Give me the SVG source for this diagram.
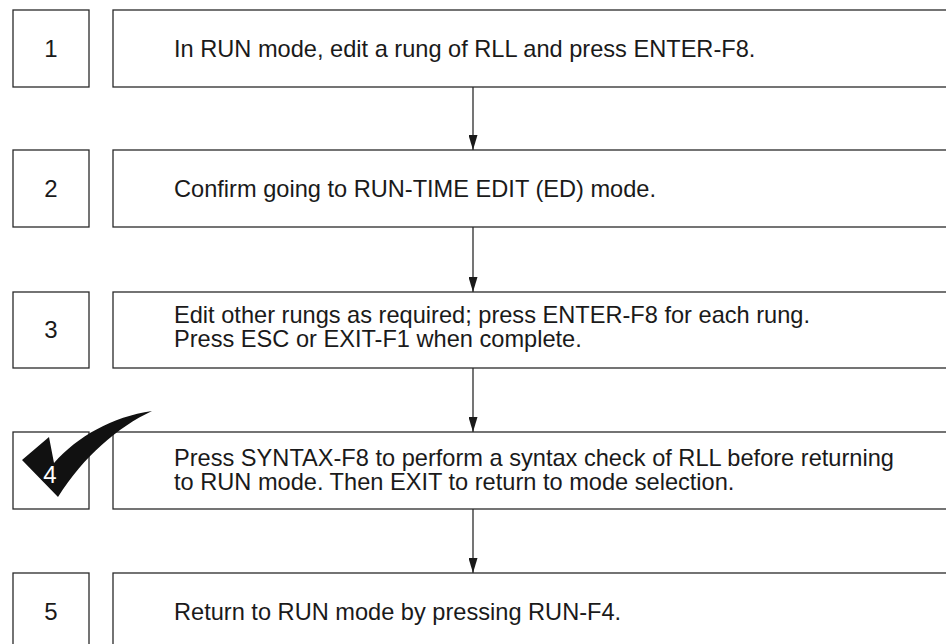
<svg xmlns="http://www.w3.org/2000/svg" width="946" height="644" viewBox="0 0 946 644">
  <style>
    .box { fill: #ffffff; stroke: #2a2a2a; stroke-width: 1.3; }
    .num { font-family: "Liberation Sans", Arial, sans-serif; font-size: 24px; fill: #1a1a1a; text-anchor: middle; }
    .txt { font-family: "Liberation Sans", Arial, sans-serif; font-size: 23.6px; fill: #1a1a1a; }
    .link { stroke: #1a1a1a; stroke-width: 1.2; fill: none; marker-end: url(#head); }
  </style>
  <defs>
    <marker id="head" viewBox="0 0 15 9" refX="15" refY="4.5" markerWidth="15" markerHeight="9" markerUnits="userSpaceOnUse" orient="auto">
      <path d="M0,0 L15,4.5 L0,9 Z" fill="#1a1a1a"/>
    </marker>
  </defs>
  <rect width="946" height="644" fill="#ffffff"/>

  <!-- flow arrows between steps -->
  <g id="connectors">
    <line class="link" x1="473" y1="87" x2="473" y2="150"/>
    <line class="link" x1="473" y1="227" x2="473" y2="292"/>
    <line class="link" x1="473" y1="368" x2="473" y2="432"/>
    <line class="link" x1="473" y1="509" x2="473" y2="573"/>
  </g>

  <g id="step1">
    <rect class="box" x="13" y="10" width="76" height="77"/>
    <rect class="box" x="113" y="10" width="840" height="77"/>
    <text class="num" x="51" y="57">1</text>
    <text class="txt" x="174" y="57">In RUN mode, edit a rung of RLL and press ENTER-F8.</text>
  </g>

  <g id="step2">
    <rect class="box" x="13" y="150" width="76" height="77"/>
    <rect class="box" x="113" y="150" width="840" height="77"/>
    <text class="num" x="51" y="197">2</text>
    <text class="txt" x="174" y="197">Confirm going to RUN-TIME EDIT (ED) mode.</text>
  </g>

  <g id="step3">
    <rect class="box" x="13" y="292" width="76" height="76"/>
    <rect class="box" x="113" y="292" width="840" height="76"/>
    <text class="num" x="51" y="338">3</text>
    <text class="txt" x="174" y="323">Edit other rungs as required; press ENTER-F8 for each rung.</text>
    <text class="txt" x="174" y="347">Press ESC or EXIT-F1 when complete.</text>
  </g>

  <g id="step4">
    <rect class="box" x="13" y="432" width="76" height="77"/>
    <rect class="box" x="113" y="432" width="840" height="77"/>
    <!-- check mark -->
    <path d="M22,460 L49,437 L54,463 C78,436 112,417 152,411 C118,427 84,456 58,497 Z" fill="#111111"/>
    <text class="num" x="50" y="483" style="fill:#ffffff">4</text>
    <text class="txt" x="174" y="466">Press SYNTAX-F8 to perform a syntax check of RLL before returning</text>
    <text class="txt" x="174" y="490">to RUN mode. Then EXIT to return to mode selection.</text>
  </g>

  <g id="step5">
    <rect class="box" x="13" y="573" width="76" height="80"/>
    <rect class="box" x="113" y="573" width="840" height="80"/>
    <text class="num" x="51" y="620">5</text>
    <text class="txt" x="174" y="620">Return to RUN mode by pressing RUN-F4.</text>
  </g>
</svg>
